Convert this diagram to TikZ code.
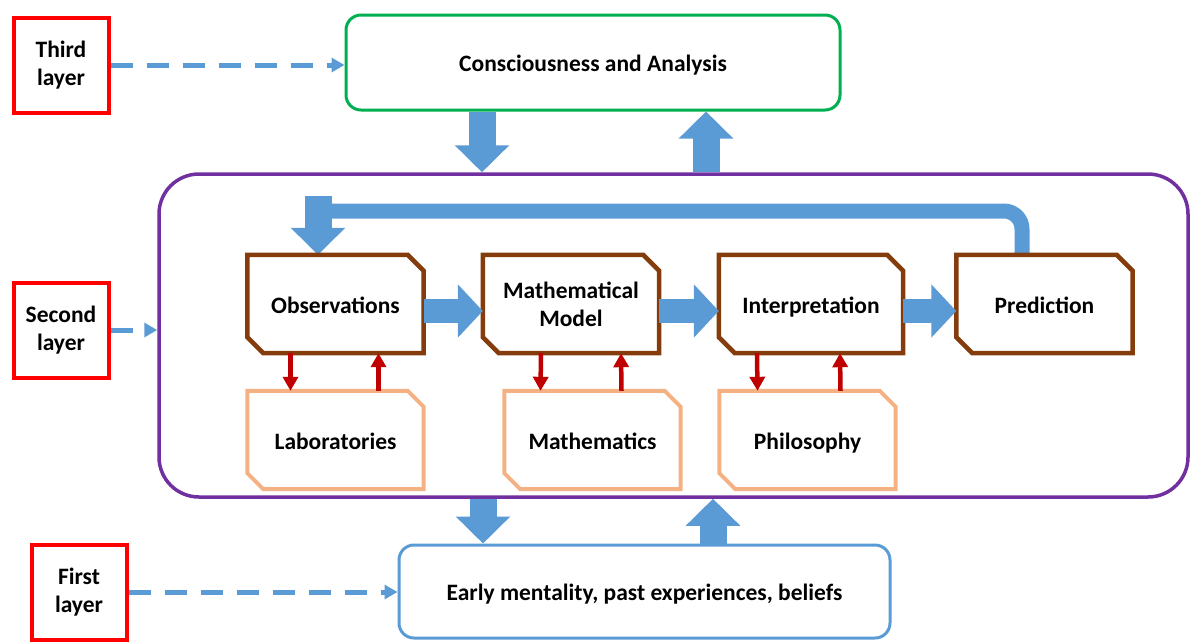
\documentclass[tikz,border=0pt]{standalone}
\usepackage{fontspec}
\setmainfont{Carlito}
\usetikzlibrary{arrows.meta}

\definecolor{layerred}{HTML}{FF0000}
\definecolor{arrowblue}{HTML}{5B9BD5}
\definecolor{stagebrown}{HTML}{843C0C}
\definecolor{sourceorange}{HTML}{F4B183}
\definecolor{linkred}{HTML}{C00000}
\definecolor{boxpurple}{HTML}{7030A0}
\definecolor{boxgreen}{HTML}{00B050}

\begin{document}
\begin{tikzpicture}[x=1pt,y=-1pt,
  font=\fontsize{23.5}{28}\selectfont\bfseries,
  layer/.style={draw=layerred, line width=4pt, minimum width=95pt, minimum height=95pt, align=center, inner sep=0pt},
  stage/.style={minimum width=176pt, minimum height=98pt, align=center, inner sep=0pt},
  oneline/.style={text height=20pt, text depth=2pt},
  stageline/.style={draw=stagebrown, line width=4.5pt},
  sourceline/.style={draw=sourceorange, line width=4pt},
  bigarrow/.style={draw=arrowblue, line width=27pt, -{Triangle[length=27pt,width=53pt]}},
  sidearrow/.style={draw=arrowblue, line width=24pt, -{Triangle[length=25pt,width=52pt]}},
  loopline/.style={draw=arrowblue, line width=15pt, rounded corners=18pt},
  linkarrow/.style={draw=linkred, line width=4.5pt, -{Triangle[length=14pt,width=15pt]}},
  dasharrow/.style={draw=arrowblue, line width=5pt, dash pattern=on 22pt off 14pt, -{Triangle[length=13pt,width=14pt]}}
]
\useasboundingbox (0,0) rectangle (1192,641);

% layer labels
\node[layer] (third) at (61,65) {Third\\layer};
\node[layer] (secondlayer) at (61,330) {Second\\layer};
\node[layer] (firstlayer) at (79,592) {First\\layer};

% the three layers
\node[draw=boxgreen, line width=3pt, rounded corners=15pt, minimum width=494pt, minimum height=95pt, oneline] (consc) at (593,62.5) {Consciousness and Analysis};
\node[draw=boxpurple, line width=3.5pt, rounded corners=40pt, minimum width=1029pt, minimum height=323pt] (second) at (673.5,335.5) {};
\node[draw=arrowblue, line width=3pt, rounded corners=15pt, minimum width=491pt, minimum height=93pt, oneline] (early) at (644.5,591.5) {Early mentality, past experiences, beliefs};

% stages
\node[stage, oneline] (obs) at (335.5,304) {Observations};
\node[stage] (model) at (571,304) {Mathematical\\Model};
\node[stage, oneline, minimum width=184pt] (interp) at (811,304) {Interpretation};
\node[stage, oneline] (pred) at (1044.5,304) {Prediction};

\node[stage, oneline] (lab) at (335.5,440) {Laboratories};
\node[stage, oneline] (maths) at (592.5,440) {Mathematics};
\node[stage, oneline] (phil) at (807.5,440) {Philosophy};

% feedback loop
\coordinate (fb) at (318,211);
\coordinate (fbin) at (318,196);
\draw[loopline] ([xshift=-22.5]pred.north) |- (fb);
\draw[bigarrow] (fbin) -- (fbin |- obs.north);

% snipped boxes
\foreach \n in {obs,model,interp,pred}
  \draw[stageline] (\n.north west) -- ([xshift=-16]\n.north east) -- ([yshift=-16]\n.north east)
    -- (\n.south east) -- ([xshift=16]\n.south west) -- ([yshift=16]\n.south west) -- cycle;
\foreach \n in {lab,maths,phil}
  \draw[sourceline] (\n.north west) -- ([xshift=-16]\n.north east) -- ([yshift=-16]\n.north east)
    -- (\n.south east) -- ([xshift=16]\n.south west) -- ([yshift=16]\n.south west) -- cycle;

% flow between stages
\draw[sidearrow] ([yshift=-7]obs.east) -- ([yshift=-7]model.west);
\draw[sidearrow] ([yshift=-7]model.east) -- ([yshift=-7]interp.west);
\draw[sidearrow] ([yshift=-7]interp.east) -- ([yshift=-7]pred.west);

% stages and their sources
\foreach \a/\b/\da/\db/\ua/\ub in {obs/lab/-45/-45/43/43, model/maths/-30/-52/50/29, interp/phil/-54/-50/29/33} {
  \draw[linkarrow] ([xshift=\da]\a.south) -- ([xshift=\db]\b.north);
  \draw[linkarrow] ([xshift=\ub]\b.north) -- ([xshift=\ua]\a.south);
}

% between layers
\coordinate (cdown) at ([xshift=-111]consc.south);
\coordinate (cup) at ([xshift=113]consc.south);
\coordinate (edown) at ([xshift=-161.5]early.north);
\coordinate (eup) at ([xshift=68.5]early.north);
\draw[bigarrow] (cdown) -- (cdown |- second.north);
\draw[bigarrow] (cup |- second.north) -- (cup);
\draw[bigarrow] (edown |- second.south) -- (edown);
\draw[bigarrow] (eup) -- (eup |- second.south);

% layer pointers
\draw[dasharrow] (third.east) -- (third.east -| consc.west);
\draw[dasharrow] (secondlayer.east) -- (secondlayer.east -| second.west);
\draw[dasharrow] (firstlayer.east) -- (firstlayer.east -| early.west);
\end{tikzpicture}
\end{document}
